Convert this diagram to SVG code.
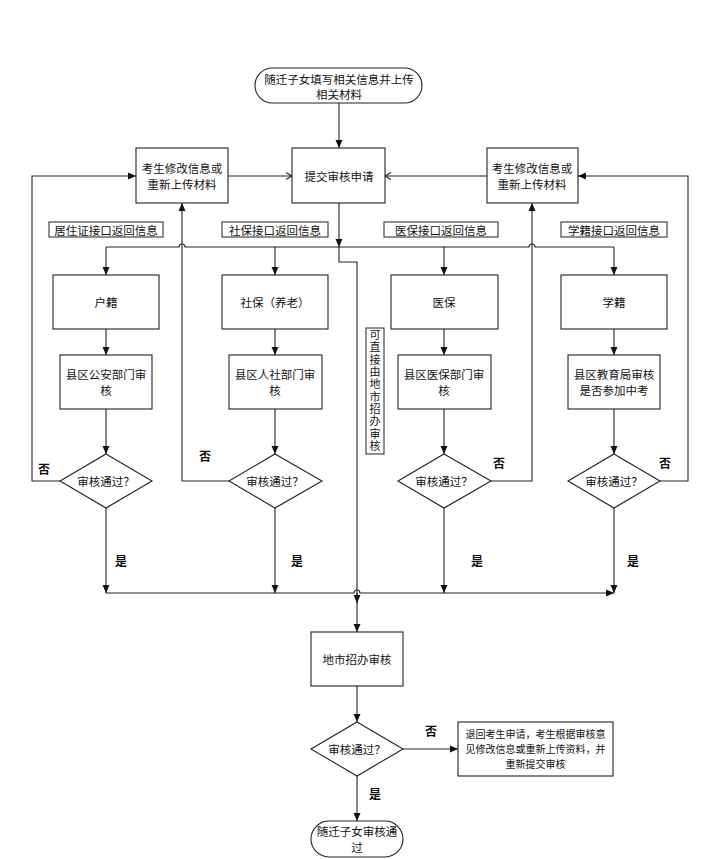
<svg xmlns="http://www.w3.org/2000/svg" width="719" height="859" viewBox="0 0 719 859">
<style>
.box{fill:#fff;stroke:#222;stroke-width:1.1}
.lbl{fill:#fff;stroke:#333;stroke-width:1.1}
.t{font-family:"Noto Sans CJK SC","Noto Sans",sans-serif;font-size:11.5px;fill:#111;text-anchor:middle;dominant-baseline:central}
.r{font-family:"Noto Sans CJK SC","Noto Sans",sans-serif;font-size:10px;fill:#111;text-anchor:middle;dominant-baseline:central}
.v{font-family:"Noto Sans CJK SC","Noto Sans",sans-serif;font-size:11px;fill:#111;text-anchor:middle;writing-mode:vertical-rl;letter-spacing:1.3px}
.s{font-family:"Noto Sans CJK SC","Noto Sans",sans-serif;font-size:12px;fill:#111;text-anchor:middle;dominant-baseline:central;font-weight:bold}
.c{fill:none;stroke:#222;stroke-width:1.1}
</style>
<defs>
<marker id="ar" markerUnits="userSpaceOnUse" markerWidth="9" markerHeight="8" refX="8" refY="4" orient="auto"><path d="M0,0.5 L8,4 L0,7.5 z" fill="#111"/></marker>
<marker id="op" markerUnits="userSpaceOnUse" markerWidth="9" markerHeight="9" refX="7" refY="4.5" orient="auto"><path d="M1,1 L7,4.5 L1,8" fill="none" stroke="#222" stroke-width="1.1"/></marker>
</defs>
<rect width="719" height="859" fill="#fff"/>
<g id="connectors">
<line class="c" x1="339" y1="103" x2="339" y2="148" marker-end="url(#ar)"/>
<line class="c" x1="228" y1="176" x2="292" y2="176" marker-end="url(#op)"/>
<line class="c" x1="487" y1="176" x2="385" y2="176" marker-end="url(#op)"/>
<line class="c" x1="339" y1="203" x2="339" y2="247" marker-end="url(#ar)"/>
<path class="c" d="M339,247 L339,262 L357,262 L357,632" marker-end="url(#ar)"/>
<path class="c" d="M106,247 L179,247 A3,3 0 0 1 185,247 L529,247 A3,3 0 0 1 535,247 L614,247"/>
<line class="c" x1="106" y1="247" x2="106" y2="275" marker-end="url(#ar)"/>
<line class="c" x1="275" y1="247" x2="275" y2="275" marker-end="url(#ar)"/>
<line class="c" x1="444" y1="247" x2="444" y2="275" marker-end="url(#ar)"/>
<line class="c" x1="614" y1="247" x2="614" y2="275" marker-end="url(#ar)"/>
<line class="c" x1="106" y1="329" x2="106" y2="355" marker-end="url(#ar)"/>
<line class="c" x1="275" y1="329" x2="275" y2="355" marker-end="url(#ar)"/>
<line class="c" x1="444" y1="329" x2="444" y2="355" marker-end="url(#ar)"/>
<line class="c" x1="614" y1="329" x2="614" y2="355" marker-end="url(#ar)"/>
<line class="c" x1="106" y1="409" x2="106" y2="454" marker-end="url(#ar)"/>
<line class="c" x1="275" y1="409" x2="275" y2="454" marker-end="url(#ar)"/>
<line class="c" x1="444" y1="409" x2="444" y2="454" marker-end="url(#ar)"/>
<line class="c" x1="614" y1="409" x2="614" y2="454" marker-end="url(#ar)"/>
<path class="c" d="M60,481 L32,481 L32,176 L136,176" marker-end="url(#ar)"/>
<path class="c" d="M229,481 L182,481 L182,203" marker-end="url(#ar)"/>
<path class="c" d="M491,481 L532,481 L532,203" marker-end="url(#ar)"/>
<path class="c" d="M660,481 L688,481 L688,176 L578,176" marker-end="url(#ar)"/>
<line class="c" x1="106" y1="508" x2="106" y2="593" marker-end="url(#ar)"/>
<line class="c" x1="275" y1="508" x2="275" y2="593" marker-end="url(#ar)"/>
<line class="c" x1="444" y1="508" x2="444" y2="593" marker-end="url(#ar)"/>
<line class="c" x1="614" y1="508" x2="614" y2="593" marker-end="url(#ar)"/>
<path class="c" d="M106,593 L354,593 A3,3 0 0 1 360,593 L614,593" marker-end="url(#ar)"/>
<line class="c" x1="357" y1="593" x2="357" y2="603" marker-end="url(#ar)"/>
<line class="c" x1="357" y1="686" x2="357" y2="722" marker-end="url(#ar)"/>
<line class="c" x1="403" y1="749" x2="458" y2="749" marker-end="url(#ar)"/>
<line class="c" x1="357" y1="776" x2="357" y2="821" marker-end="url(#ar)"/>
</g>
<g id="start"><rect class="box" x="255" y="68" width="167" height="35" rx="17.5"/><text class="t" x="339" y="79">随迁子女填写相关信息并上传</text><text class="t" x="339" y="94">相关材料</text></g>
<g id="submit"><rect class="box" x="292" y="148" width="93" height="55"/><text class="t" x="339" y="176">提交审核申请</text></g>
<g id="modifyL"><rect class="box" x="136" y="148" width="92" height="55"/><text class="t" x="182" y="168">考生修改信息或</text><text class="t" x="182" y="184">重新上传材料</text></g>
<g id="modifyR"><rect class="box" x="487" y="148" width="91" height="55"/><text class="t" x="532" y="168">考生修改信息或</text><text class="t" x="532" y="184">重新上传材料</text></g>
<g id="lbl1"><rect class="lbl" x="49" y="222" width="114" height="15"/><text class="t" x="106" y="229.5">居住证接口返回信息</text></g>
<g id="lbl2"><rect class="lbl" x="222" y="222" width="106" height="15"/><text class="t" x="275" y="229.5">社保接口返回信息</text></g>
<g id="lbl3"><rect class="lbl" x="384" y="222" width="114" height="15"/><text class="t" x="441" y="229.5">医保接口返回信息</text></g>
<g id="lbl4"><rect class="lbl" x="561" y="222" width="106" height="15"/><text class="t" x="614" y="229.5">学籍接口返回信息</text></g>
<g id="huji"><rect class="box" x="53" y="275" width="106" height="54"/><text class="t" x="106" y="302">户籍</text></g>
<g id="shebao"><rect class="box" x="222" y="275" width="106" height="54"/><text class="t" x="275" y="302">社保（养老）</text></g>
<g id="yibao"><rect class="box" x="391" y="275" width="107" height="54"/><text class="t" x="444" y="302">医保</text></g>
<g id="xueji"><rect class="box" x="561" y="275" width="106" height="54"/><text class="t" x="614" y="302">学籍</text></g>
<g id="gongan"><rect class="box" x="60" y="355" width="92" height="54"/><text class="t" x="106" y="374">县区公安部门审</text><text class="t" x="106" y="390">核</text></g>
<g id="renshe"><rect class="box" x="229" y="355" width="93" height="54"/><text class="t" x="275" y="374">县区人社部门审</text><text class="t" x="275" y="390">核</text></g>
<g id="yibaobm"><rect class="box" x="398" y="355" width="93" height="54"/><text class="t" x="444" y="374">县区医保部门审</text><text class="t" x="444" y="390">核</text></g>
<g id="jiaoyu"><rect class="box" x="568" y="355" width="92" height="54"/><text class="t" x="614" y="374">县区教育局审核</text><text class="t" x="614" y="390">是否参加中考</text></g>
<g id="direct"><rect class="lbl" x="366" y="328" width="18" height="126"/>
<text class="v" x="375" y="391">可直接由地市招办审核</text></g>
<g id="d1"><polygon class="box" points="106,454 152,481 106,508 60,481"/><text class="t" x="106" y="481">审核通过？</text></g>
<g id="d2"><polygon class="box" points="275,454 322,481 275,508 229,481"/><text class="t" x="275" y="481">审核通过？</text></g>
<g id="d3"><polygon class="box" points="444,454 491,481 444,508 398,481"/><text class="t" x="444" y="481">审核通过？</text></g>
<g id="d4"><polygon class="box" points="614,454 660,481 614,508 568,481"/><text class="t" x="614" y="481">审核通过？</text></g>
<g id="labels">
<text class="s" x="44" y="468">否</text>
<text class="s" x="205" y="455">否</text>
<text class="s" x="499" y="462">否</text>
<text class="s" x="665" y="462">否</text>
<text class="s" x="121" y="560">是</text>
<text class="s" x="297" y="560">是</text>
<text class="s" x="477" y="560">是</text>
<text class="s" x="633" y="560">是</text>
<text class="s" x="431" y="730">否</text>
<text class="s" x="375" y="793">是</text>
</g>
<g id="city"><rect class="box" x="311" y="632" width="92" height="54"/><text class="t" x="357" y="659">地市招办审核</text></g>
<g id="d5"><polygon class="box" points="357,722 403,749 357,776 311,749"/><text class="t" x="357" y="749">审核通过？</text></g>
<g id="reject"><rect class="box" x="458" y="722" width="155" height="54"/>
<text class="r" x="535.5" y="733">退回考生申请，考生根据审核意</text>
<text class="r" x="535.5" y="748">见修改信息或重新上传资料，并</text>
<text class="r" x="535.5" y="763">重新提交审核</text></g>
<g id="end"><rect class="box" x="311" y="821" width="92" height="36" rx="18"/><text class="t" x="357" y="831">随迁子女审核通</text><text class="t" x="357" y="847">过</text></g>
</svg>
